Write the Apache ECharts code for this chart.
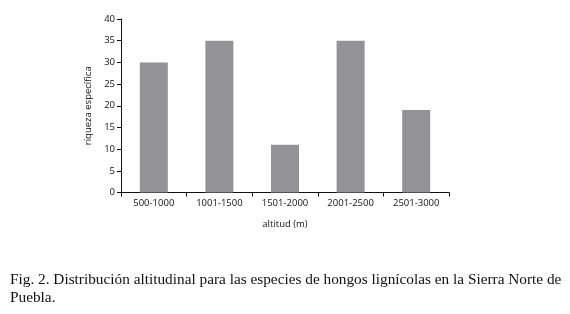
<!DOCTYPE html>
<html>
<head>
<meta charset="utf-8">
<script src="https://cdn.jsdelivr.net/npm/echarts@6/dist/echarts.min.js"></script>
<style>
  html, body { margin: 0; padding: 0; background: #fff; }
  #chart { width: 570px; height: 314px; }
</style>
</head>
<body>
<div id="chart"></div>
<script>
// altitude ranges and species richness
const categories = ['500-1000', '1001-1500', '1501-2000', '2001-2500', '2501-3000'];
const riqueza = [30, 35, 11, 35, 19];
const yTicks = [0, 5, 10, 15, 20, 25, 30, 35, 40];

const chart = echarts.init(document.getElementById('chart'));

const labelFont = "'Open Sans', 'DejaVu Sans', sans-serif";

const option = {
    animation: false,
    grid: {
        left: 121,
        right: 121,
        top: 19,
        height: 173.5,
        containLabel: false
    },
    title: {
        text: 'Fig. 2. Distribución altitudinal para las especies de hongos lignícolas en la Sierra Norte de\nPuebla.',
        left: 5,
        top: 266,
        textStyle: {
            fontFamily: "'Liberation Serif', 'Times New Roman', serif",
            fontSize: 15.3,
            fontWeight: 'normal',
            color: '#111',
            lineHeight: 18
        }
    },
    xAxis: {
        type: 'category',
        data: categories,
        name: 'altitud (m)',
        nameLocation: 'middle',
        nameGap: 27,
        nameTextStyle: { fontFamily: labelFont, fontSize: 9.5, color: '#111' },
        axisLine: { lineStyle: { color: '#111', width: 1 } },
        axisTick: { show: true, length: 4, inside: false, lineStyle: { color: '#111' } },
        axisLabel: { fontFamily: labelFont, fontSize: 9.5, color: '#111', margin: 6 }
    },
    yAxis: {
        type: 'value',
        min: yTicks[0],
        max: yTicks[yTicks.length - 1],
        interval: 5,
        name: 'riqueza específica',
        nameLocation: 'middle',
        nameGap: 28,
        nameTextStyle: { fontFamily: labelFont, fontSize: 9.5, color: '#111' },
        axisLine: { show: true, lineStyle: { color: '#111', width: 1 } },
        axisTick: { show: true, length: 4, lineStyle: { color: '#111' } },
        axisLabel: { fontFamily: labelFont, fontSize: 9.5, color: '#111', margin: 6 },
        splitLine: { show: false }
    },
    series: [{
        type: 'bar',
        data: riqueza,
        barWidth: 28,
        itemStyle: { color: '#939396' }
    }]
};

chart.setOption(option);
</script>
</body>
</html>
